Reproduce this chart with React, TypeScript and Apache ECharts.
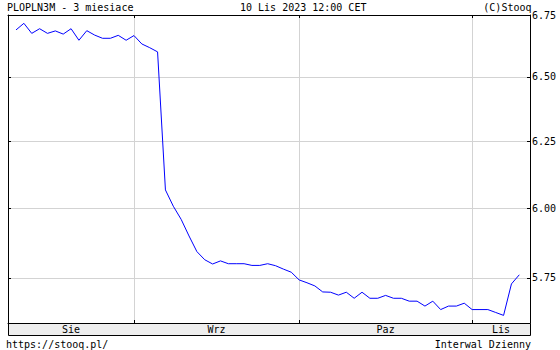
import { useEffect, useRef } from 'react';
import * as echarts from 'echarts';

const dates = [
  '2023-08-10', '2023-08-11', '2023-08-14', '2023-08-16', '2023-08-17', '2023-08-18', '2023-08-21', '2023-08-22',
  '2023-08-23', '2023-08-24', '2023-08-25', '2023-08-28', '2023-08-29', '2023-08-30', '2023-08-31',
  '2023-09-01', '2023-09-04', '2023-09-05', '2023-09-06', '2023-09-07', '2023-09-08', '2023-09-11', '2023-09-12',
  '2023-09-13', '2023-09-14', '2023-09-15', '2023-09-18', '2023-09-19', '2023-09-20', '2023-09-21', '2023-09-22',
  '2023-09-25', '2023-09-26', '2023-09-27', '2023-09-28', '2023-09-29',
  '2023-10-02', '2023-10-03', '2023-10-04', '2023-10-05', '2023-10-06', '2023-10-09', '2023-10-10', '2023-10-11',
  '2023-10-12', '2023-10-13', '2023-10-16', '2023-10-17', '2023-10-18', '2023-10-19', '2023-10-20', '2023-10-23',
  '2023-10-24', '2023-10-25', '2023-10-26', '2023-10-27', '2023-10-30', '2023-10-31',
  '2023-11-02', '2023-11-03', '2023-11-06', '2023-11-07', '2023-11-08', '2023-11-09', '2023-11-10',
];

const rates = [
  6.689, 6.716, 6.675, 6.694, 6.675, 6.685, 6.672, 6.694, 6.647, 6.686,
  6.668, 6.655, 6.655, 6.667, 6.647, 6.666, 6.632, 6.617, 6.600, 6.067,
  6.007, 5.959, 5.899, 5.843, 5.814, 5.799, 5.810, 5.800, 5.800, 5.800,
  5.794, 5.794, 5.800, 5.793, 5.781, 5.770, 5.743, 5.733, 5.722, 5.701,
  5.700, 5.690, 5.700, 5.679, 5.700, 5.679, 5.679, 5.689, 5.679, 5.679,
  5.669, 5.669, 5.652, 5.669, 5.640, 5.652, 5.652, 5.662, 5.640, 5.640,
  5.640, 5.630, 5.620, 5.729, 5.761,
];

const monthNames = ['Sie', 'Wrz', 'Paz', 'Lis'];
const yTickValues = [5.75, 6.0, 6.25, 6.5, 6.75];

const titleLeft = 'PLOPLN3M - 3 miesiace';
const titleCenter = '10 Lis 2023 12:00 CET';
const titleRight = '(C)Stooq';
const footLeft = 'https://stooq.pl/';
const footRight = 'Interwal Dzienny';

const FONT = '"DejaVu Sans Mono", monospace';
const X_MIN = -1.02;
const X_MAX = 65.36;
const Y_MIN = 5.594;
const Y_MAX = 6.7502;

export default function App() {
  const ref = useRef<HTMLDivElement>(null);

  useEffect(() => {
    if (!ref.current) return;
    const chart = echarts.init(ref.current, null, { renderer: 'svg' });

    const monthStarts: number[] = [];
    for (let i = 1; i < dates.length; i++) {
      if (dates[i].slice(5, 7) !== dates[i - 1].slice(5, 7)) monthStarts.push(i);
    }
    const bounds = [X_MIN, ...monthStarts, X_MAX];
    const mids: number[] = [];
    for (let k = 0; k < bounds.length - 1; k++) mids.push((bounds[k] + bounds[k + 1]) / 2);

    const monthFormatter = (v: number) => {
      let best = 0;
      let bd = Infinity;
      mids.forEach((m, k) => {
        const d = Math.abs(m - v);
        if (d < bd) { bd = d; best = k; }
      });
      return monthNames[best];
    };

    const txt = (text: string, x: number, y: number, align: string) => ({
      type: 'text',
      x,
      y,
      z: 10,
      style: {
        text,
        fill: '#000',
        fontFamily: FONT,
        fontSize: 10,
        align,
        verticalAlign: 'middle',
      },
    });

    chart.setOption({
      animation: false,
      backgroundColor: '#fff',
      grid: { left: 8, top: 15, width: 522, height: 308, containLabel: false },
      xAxis: [
        {
          type: 'value',
          position: 'bottom',
          min: X_MIN,
          max: X_MAX,
          axisLine: { show: true, onZero: false, lineStyle: { color: '#000', width: 1 } },
          axisTick: { show: true, inside: true, length: 3, customValues: monthStarts, lineStyle: { color: '#000' } },
          axisLabel: {
            show: true,
            customValues: mids,
            formatter: monthFormatter,
            color: '#000',
            fontFamily: FONT,
            fontSize: 10,
            margin: 6,
            verticalAlign: 'middle',
            showMinLabel: true,
            showMaxLabel: true,
          },
          splitLine: { show: true, lineStyle: { color: '#d3d3d3', width: 1 } },
        },
        {
          type: 'value',
          position: 'top',
          z: 3,
          min: X_MIN,
          max: X_MAX,
          axisLine: { show: true, onZero: false, lineStyle: { color: '#000', width: 1 } },
          axisTick: { show: true, inside: true, length: 3, customValues: monthStarts, lineStyle: { color: '#000' } },
          axisLabel: { show: false },
          splitLine: { show: false },
        },
      ],
      yAxis: [
        {
          type: 'log',
          logBase: 10,
          position: 'right',
          min: Y_MIN,
          max: Y_MAX,
          axisLine: { show: true, onZero: false, lineStyle: { color: '#000', width: 1 } },
          axisTick: { show: true, inside: true, length: 3, customValues: yTickValues, lineStyle: { color: '#000' } },
          axisLabel: {
            show: true,
            customValues: yTickValues,
            formatter: (v: number) => Number(v).toFixed(2),
            color: '#000',
            fontFamily: FONT,
            fontSize: 10,
            margin: 2,
            showMinLabel: true,
            showMaxLabel: true,
          },
          splitLine: { show: true, lineStyle: { color: '#d3d3d3', width: 1 } },
          minorTick: { show: false },
          minorSplitLine: { show: false },
        },
        {
          type: 'log',
          logBase: 10,
          position: 'left',
          min: Y_MIN,
          max: Y_MAX,
          axisLine: { show: true, onZero: false, lineStyle: { color: '#000', width: 1 } },
          axisTick: { show: true, inside: true, length: 3, customValues: yTickValues, lineStyle: { color: '#000' } },
          axisLabel: { show: false },
          splitLine: { show: false },
        },
      ],
      series: [
        {
          type: 'line',
          xAxisIndex: 0,
          yAxisIndex: 0,
          data: rates.map((v, i) => [i, v]),
          showSymbol: false,
          symbol: 'none',
          lineStyle: { color: '#0000ff', width: 1 },
          itemStyle: { color: '#0000ff' },
          z: 5,
        },
      ],
      graphic: [
        {
          type: 'rect',
          z: -1,
          shape: { x: 8.5, y: 323.5, width: 522, height: 12 },
          style: { fill: '#eeeeee', stroke: '#000', lineWidth: 1 },
        },
        txt(titleLeft, 7, 7.5, 'left'),
        txt(titleCenter, 240, 7.5, 'left'),
        txt(titleRight, 531.5, 7.5, 'right'),
        txt(footLeft, 6, 344, 'left'),
        txt(footRight, 531, 344, 'right'),
      ],
    });

    return () => chart.dispose();
  }, []);

  return (
    <div
      ref={ref}
      style={{ position: 'absolute', left: 0, top: 0, width: 560, height: 350, background: '#fff' }}
    />
  );
}
